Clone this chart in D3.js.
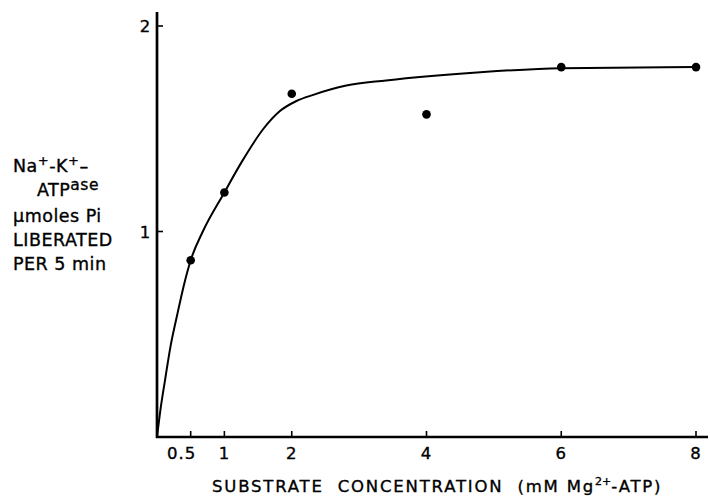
<!DOCTYPE html>
<html>
<head>
<meta charset="utf-8">
<script src="https://cdn.jsdelivr.net/npm/d3@7"></script>
<style>
  body { margin: 0; background: #fff; }
  svg text { font-family: "DejaVu Sans", sans-serif; fill: #000; stroke: #000; stroke-width: 0.35px; }
</style>
</head>
<body>
<div id="chart"></div>
<script>
// measured points (substrate mM vs umoles Pi)
const conc = [0.5, 1, 2, 4, 6, 8]
const activity = [0.86, 1.19, 1.67, 1.57, 1.80, 1.80]

const curve_x = [0, 0.05, 0.12, 0.2, 0.3, 0.4, 0.5, 0.68, 1, 1.26, 1.58, 1.82, 2.07, 2.32, 2.81, 3.4, 4.8, 6, 8]
const curve_y = [0, 0.13, 0.278, 0.44, 0.595, 0.74, 0.86, 1.0, 1.19, 1.34, 1.50, 1.585, 1.635, 1.665, 1.71, 1.735, 1.775, 1.795, 1.80]

const x_ticks = [0.5, 1, 2, 4, 6, 8]
const y_ticks = [1, 2]

const width = 710, height = 497
const x0 = 157, x1 = 696
const y0 = 437, y1 = 26

var svg = d3.select("#chart").append("svg")
	.attr("width", width)
	.attr("height", height)

var x = d3.scaleLinear().domain([0, 8]).range([x0, x1])
var y = d3.scaleLinear().domain([0, 2]).range([y0, y1])

// axis lines
svg.append("line")
	.attr("x1", x0 - 1).attr("x2", 708)
	.attr("y1", y0).attr("y2", y0)
	.attr("stroke", "black").attr("stroke-width", 2.7)
svg.append("line")
	.attr("x1", x0).attr("x2", x0)
	.attr("y1", y0 + 1).attr("y2", 12)
	.attr("stroke", "black").attr("stroke-width", 2.7)

// x ticks point up into the plot
svg.selectAll(".xtick")
	.data(x_ticks)
	.enter().append("line")
	.attr("class", "xtick")
	.attr("x1", d => x(d)).attr("x2", d => x(d))
	.attr("y1", y0).attr("y2", y0 - 6)
	.attr("stroke", "black").attr("stroke-width", 1.6)

svg.selectAll(".xlabel")
	.data(x_ticks)
	.enter().append("text")
	.attr("class", "xlabel")
	.attr("x", d => x(d))
	.attr("dx", d => d == 0.5 ? -9 : 0)
	.attr("y", 459)
	.attr("text-anchor", "middle")
	.attr("font-size", "16.5px")
	.attr("letter-spacing", "1px")
	.text(d => d)

// y ticks point right, into the plot
svg.selectAll(".ytick")
	.data(y_ticks)
	.enter().append("line")
	.attr("class", "ytick")
	.attr("x1", x0).attr("x2", x0 + 6)
	.attr("y1", d => y(d)).attr("y2", d => y(d))
	.attr("stroke", "black").attr("stroke-width", 1.6)

svg.selectAll(".ylabel")
	.data(y_ticks)
	.enter().append("text")
	.attr("class", "ylabel")
	.attr("x", 145)
	.attr("y", d => y(d) + 6)
	.attr("text-anchor", "middle")
	.attr("font-size", "16.5px")
	.text(d => d)

// fitted curve
var line = d3.line()
	.x((d, i) => x(curve_x[i]))
	.y(d => y(d))
	.curve(d3.curveMonotoneX)

svg.append("path")
	.attr("d", line(curve_y))
	.attr("fill", "none")
	.attr("stroke", "black")
	.attr("stroke-width", 2)

// data points
svg.selectAll(".pt")
	.data(conc)
	.enter().append("circle")
	.attr("class", "pt")
	.attr("cx", d => x(d))
	.attr("cy", (d, i) => y(activity[i]))
	.attr("r", 4.3)
	.attr("fill", "black")

// y axis title, stacked lines
var ytitle = svg.append("g").attr("font-size", "17.5px").attr("letter-spacing", "0.5px")
var t1 = ytitle.append("text").attr("x", 13).attr("y", 172)
t1.append("tspan").text("Na")
t1.append("tspan").attr("dy", -7).attr("font-size", "13px").text("+")
t1.append("tspan").attr("dy", 7).text("-K")
t1.append("tspan").attr("dy", -7).attr("font-size", "13px").text("+")
t1.append("tspan").attr("dy", 7).text("\u2013")
var t2 = ytitle.append("text").attr("x", 37).attr("y", 196)
t2.append("tspan").text("ATP")
t2.append("tspan").attr("dy", -6).attr("font-size", "15.5px").text("ase")
ytitle.append("text").attr("x", 13).attr("y", 222).text("\u03bcmoles Pi")
ytitle.append("text").attr("x", 13).attr("y", 246).text("LIBERATED")
ytitle.append("text").attr("x", 13).attr("y", 270).text("PER 5 min")

// x axis title
var xt = svg.append("text")
	.attr("x", 212).attr("y", 492)
	.attr("font-size", "16.5px")
	.attr("letter-spacing", "1.8px")
	.attr("xml:space", "preserve")
xt.append("tspan").text("SUBSTRATE  CONCENTRATION  (mM Mg")
xt.append("tspan").attr("dy", -7).attr("font-size", "11px").attr("letter-spacing", "0px").text("2+")
xt.append("tspan").attr("dy", 7).text("-ATP)")
</script>
</body>
</html>
